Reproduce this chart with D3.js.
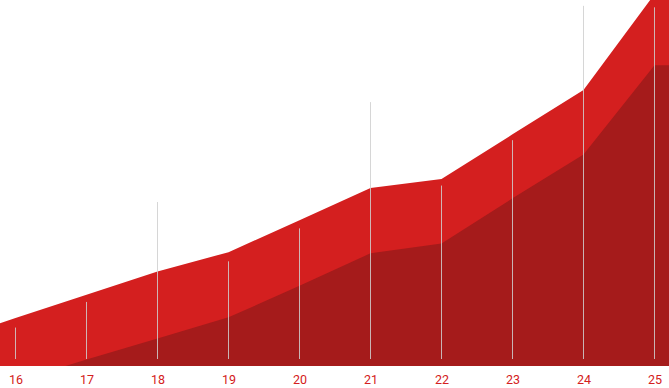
<!DOCTYPE html>
<html>
<head>
<meta charset="utf-8">
<script src="https://cdn.jsdelivr.net/npm/d3@7/dist/d3.min.js"></script>
<style>
  html, body { margin: 0; padding: 0; background: #fff; }
  svg { display: block; }
</style>
</head>
<body>
<div id="chart"></div>
<script>
// Categories (ages); 15 and 26 are the off-canvas edge points of the areas
const categories = [15, 16, 17, 18, 19, 20, 21, 22, 23, 24, 25, 26];
const tickLabels = ["16", "17", "18", "19", "20", "21", "22", "23", "24", "25"];
// Upper (bright red) series
const upperValues = [6.6, 13.1, 19.5, 25.8, 31.1, 39.8, 48.6, 51.1, 63.3, 75.4, 101.6, 110];
// Lower (dark red) series
const lowerValues = [-11.2, -4.3, 1.8, 7.5, 13.3, 21.9, 30.8, 33.5, 45.8, 57.8, 82.2, 82.2];
// Thin vertical marker series (one per tick label)
const markerCats = [16, 17, 18, 19, 20, 21, 22, 23, 24, 25];
const markerValues = [10.5, 17.5, 44.8, 28.6, 37.6, 72.1, 49.3, 61.7, 98.4, 98.0];

const W = 669, H = 388;
const baseY = 366;

const svg = d3.select("#chart").append("svg")
  .attr("width", W).attr("height", H);

const x = d3.scaleLinear().domain([16, 25]).range([15.5, 654.5]);
const y = d3.scaleLinear().domain([0, 100]).range([baseY, 0]);

svg.append("defs").append("clipPath").attr("id", "plotClip")
  .append("rect").attr("x", 0).attr("y", 0).attr("width", W).attr("height", baseY);

const upper = categories.map((k, i) => ({ k, v: upperValues[i] }));
const lower = categories.map((k, i) => ({ k, v: lowerValues[i] }));

const area = d3.area()
  .x(d => x(d.k))
  .y0(y(0))
  .y1(d => y(d.v));

const g = svg.append("g").attr("clip-path", "url(#plotClip)");

g.append("path").datum(upper).attr("d", area).attr("fill", "#d41f1f");
g.append("path").datum(lower).attr("d", area).attr("fill", "#a51b1b");

// vertical marker lines
g.selectAll("line.marker")
  .data(markerCats.map((k, i) => ({ k, v: markerValues[i] })))
  .join("line")
  .attr("class", "marker")
  .attr("x1", d => Math.floor(x(d.k)) + 0.5)
  .attr("x2", d => Math.floor(x(d.k)) + 0.5)
  .attr("y1", y(0) - 7)
  .attr("y2", d => y(d.v))
  .attr("stroke", "#cfcfcf")
  .attr("stroke-opacity", 0.85)
  .attr("stroke-width", 1);

// x axis labels
const axis = d3.axisBottom(x)
  .tickValues(markerCats)
  .tickFormat((d, i) => tickLabels[i])
  .tickSize(0)
  .tickPadding(0);

const ax = svg.append("g")
  .attr("transform", `translate(0,${baseY})`)
  .call(axis);
ax.select(".domain").remove();
ax.selectAll("text")
  .attr("y", 18)
  .attr("dy", 0)
  .attr("fill", "#d42020")
  .style("font-family", "Roboto, 'DejaVu Sans', sans-serif")
  .style("font-weight", 400)
  .style("font-size", "12.5px");
</script>
</body>
</html>
